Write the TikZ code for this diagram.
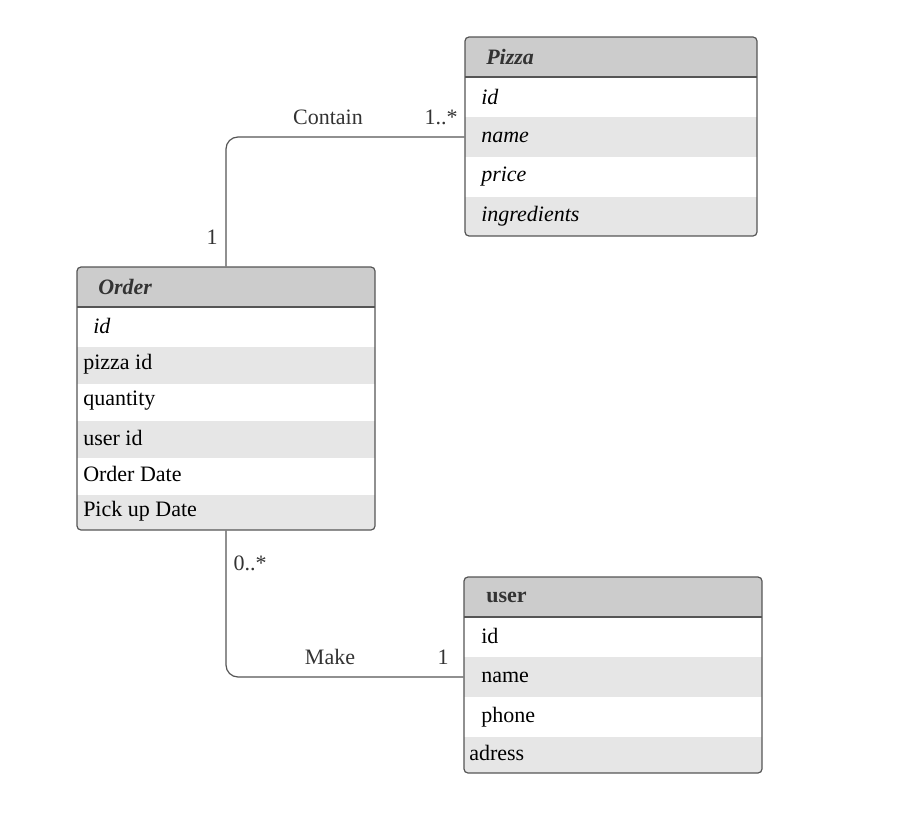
\documentclass[tikz,border=0pt]{standalone}
\usepackage{fontspec}
\setmainfont{Liberation Serif}
\usetikzlibrary{fit}
\definecolor{hdrgray}{HTML}{CCCCCC}
\definecolor{altgray}{HTML}{E6E6E6}
\definecolor{linegray}{HTML}{555555}
\definecolor{hdrtext}{HTML}{333333}
\newcommand{\dfont}{\fontsize{16.5}{20}\selectfont}
\tikzset{
  ent/.style={draw=linegray, line width=0.9pt, rounded corners=3pt, rectangle, inner sep=0pt},
  sepline/.style={draw=linegray, line width=0.9pt},
  rowtxt/.style={anchor=west, inner sep=0pt, font=\dfont, text=black},
  hdrtxt/.style={anchor=west, inner sep=0pt, font=\dfont\bfseries\itshape, text=hdrtext},
  hdrtxtup/.style={anchor=west, inner sep=0pt, font=\dfont\bfseries, text=hdrtext},
  conn/.style={draw=linegray, line width=0.9pt, rounded corners=9pt},
  lbl/.style={inner sep=0pt, font=\dfont, text=hdrtext}
}
\begin{document}
\begin{tikzpicture}[x=0.75pt,y=-0.75pt]
\useasboundingbox (0,0) rectangle (900,824);
\fill[white] (0,0) rectangle (900,824);
% ---------- Pizza ----------
\begin{scope}
\clip[rounded corners=3pt] (465,37) rectangle (757,236);
\fill[hdrgray] (465,37) rectangle (757,77);
\fill[altgray] (465,117) rectangle (757,157);
\fill[altgray] (465,197) rectangle (757,236);
\end{scope}
\draw[sepline] (465,77) -- (757,77);
\node[ent, fit={(465,37) (757,236)}] (pizza) {};
\node[hdrtxt] (ptitle) at (486,57) {Pizza};
\node[rowtxt] (pid) at (481,97) {\itshape id};
\node[rowtxt] (pname) at (481,137) {\itshape name};
\node[rowtxt] (pprice) at (481,177) {\itshape price};
\node[rowtxt] (ping) at (481,216) {\itshape ingredients};
% ---------- Order ----------
\begin{scope}
\clip[rounded corners=3pt] (77,267) rectangle (375,530);
\fill[hdrgray] (77,267) rectangle (375,307);
\fill[altgray] (77,347) rectangle (375,384);
\fill[altgray] (77,421) rectangle (375,458);
\fill[altgray] (77,495) rectangle (375,530);
\end{scope}
\draw[sepline] (77,307) -- (375,307);
\node[ent, fit={(77,267) (375,530)}] (order) {};
\node[hdrtxt] (otitle) at (98,287) {Order};
\node[rowtxt] (oid) at (93,326) {\itshape id};
\node[rowtxt] (opid) at (83,364) {pizza id};
\node[rowtxt] (oqty) at (83,401) {quantity};
\node[rowtxt] (ouid) at (83,438) {user id};
\node[rowtxt] (odate) at (83,474) {Order Date};
\node[rowtxt] (opick) at (83,511) {Pick up Date};
% ---------- user ----------
\begin{scope}
\clip[rounded corners=3pt] (464,577) rectangle (762,773);
\fill[hdrgray] (464,577) rectangle (762,617);
\fill[altgray] (464,657) rectangle (762,697);
\fill[altgray] (464,737) rectangle (762,773);
\end{scope}
\draw[sepline] (464,617) -- (762,617);
\node[ent, fit={(464,577) (762,773)}] (user) {};
\node[hdrtxtup] (utitle) at (486,597) {user};
\node[rowtxt] (uid) at (481,636) {id};
\node[rowtxt] (uname) at (481,677) {name};
\node[rowtxt] (uphone) at (481,717) {phone};
\node[rowtxt] (uadr) at (469,753) {adress};
% ---------- connectors ----------
\draw[conn] (pizza.west |- pname) -| (order.north);
\draw[conn] (order.south) |- (user.west |- uname);
% ---------- labels ----------
\node[lbl] (lcontain) at (328,117) {Contain};
\node[lbl] (lcm) at (441,117) {1..*};
\node[lbl] (lco) at (212,237) {1};
\node[lbl] (lmm) at (250,563) {0..*};
\node[lbl] (lmake) at (330,657) {Make};
\node[lbl] (lmo) at (443,657) {1};
\end{tikzpicture}
\end{document}
